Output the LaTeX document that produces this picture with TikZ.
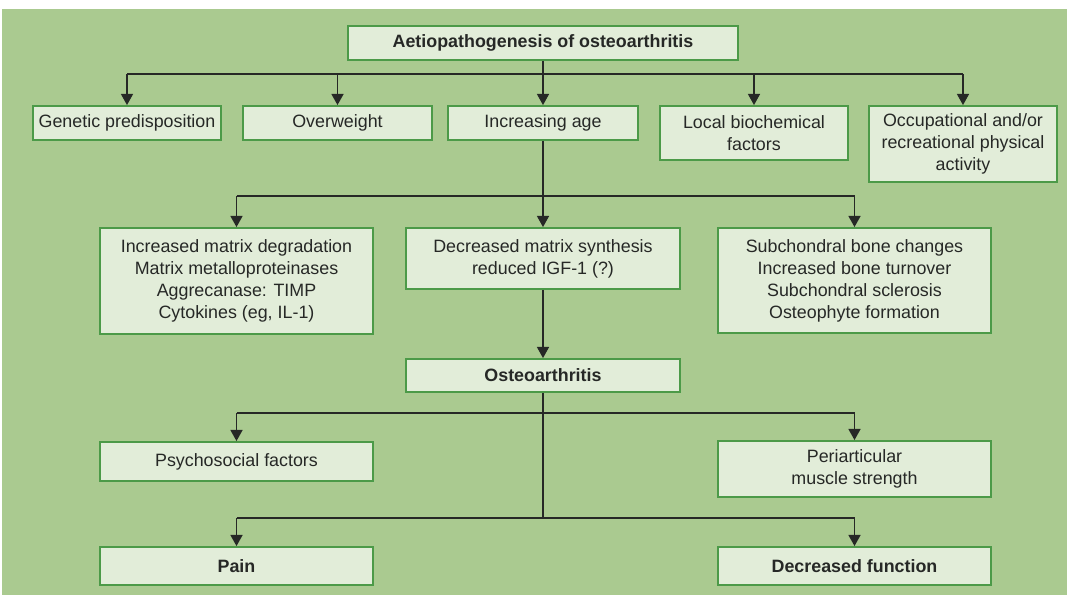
\documentclass[tikz,border=0pt]{standalone}
\usepackage{fontspec}
\setmainfont{Liberation Sans}
\usetikzlibrary{arrows.meta,positioning,calc}

\definecolor{bggreen}{RGB}{170,202,144}
\definecolor{boxfill}{RGB}{226,237,217}
\definecolor{boxline}{RGB}{76,154,72}
\definecolor{inkgray}{RGB}{38,40,38}

\begin{document}
\begin{tikzpicture}[
  x=0.025cm, y=-0.025cm,
  >={Triangle[width=0.3cm,length=0.28cm]},
  box/.style={draw=boxline, line width=1.3pt, fill=boxfill, text=inkgray,
    align=center, inner sep=0pt, font=\fontsize{12.7}{15.6}\selectfont},
  boldbox/.style={box, font=\fontsize{12.7}{15.6}\selectfont\bfseries},
  link/.style={draw=inkgray, line width=1.2pt},
]
% Background (scanned page)
\useasboundingbox (0,0) rectangle (1067,595);
\fill[white] (0,0) rectangle (1067,595);
\fill[bggreen] (2,9) rectangle (1067,595);

% Top
\node[boldbox, minimum width=9.75cm, minimum height=0.85cm] (title) at (543,43) {Aetiopathogenesis of osteoarthritis};

% Risk factors
\node[box, minimum width=4.7cm, minimum height=0.85cm] (gen) at (127,123) {Genetic predisposition};
\node[box, minimum width=4.725cm, minimum height=0.85cm] (over) at (337.5,123) {Overweight};
\node[box, minimum width=4.75cm, minimum height=0.85cm] (age) at (543,123) {Increasing age};
\node[box, minimum width=4.7cm, minimum height=1.35cm] (local) at (754,133) {Local biochemical\\factors};
\node[box, minimum width=4.7cm, minimum height=1.9cm] (occup) at (963,144) {Occupational and/or\\recreational physical\\activity};

% Mechanisms
\node[box, minimum width=6.825cm, minimum height=2.65cm] (degr) at (236.5,281) {Increased matrix degradation\\Matrix metalloproteinases\\Aggrecanase: TIMP\\Cytokines (eg, IL-1)};
\node[box, minimum width=6.85cm, minimum height=1.525cm] (synth) at (543,258.5) {Decreased matrix synthesis\\reduced IGF-1 (?)};
\node[box, minimum width=6.825cm, minimum height=2.625cm] (bone) at (854.5,280.5) {Subchondral bone changes\\Increased bone turnover\\Subchondral sclerosis\\Osteophyte formation};

\node[boldbox, minimum width=6.85cm, minimum height=0.825cm] (oa) at (543,375.5) {Osteoarthritis};

% Modifiers and outcomes
\node[box, minimum width=6.825cm, minimum height=0.975cm] (psy) at (236.5,461.5) {Psychosocial factors};
\node[box, minimum width=6.825cm, minimum height=1.4cm] (peri) at (854.5,469) {Periarticular\\muscle strength};
\node[boldbox, minimum width=6.825cm, minimum height=0.95cm] (pain) at (236.5,566) {Pain};
\node[boldbox, minimum width=6.825cm, minimum height=0.95cm] (func) at (854.5,566) {Decreased function};

% Bus levels
\coordinate (bus1) at (0,74);
\coordinate (bus2) at (0,196);
\coordinate (bus3) at (0,413);
\coordinate (bus4) at (0,518);

% Connectors
\draw[link] (title.south) -- (title.south |- bus1);
\draw[link] (gen.north |- bus1) -- (occup.north |- bus1);
\foreach \n in {gen,over,age,local,occup}
  \draw[link,->] (\n.north |- bus1) -- (\n.north);

\draw[link] (age.south) -- (age.south |- bus2);
\draw[link] (degr.north |- bus2) -- (bone.north |- bus2);
\foreach \n in {degr,synth,bone}
  \draw[link,->] (\n.north |- bus2) -- (\n.north);

\draw[link,->] (synth.south) -- (oa.north);
\draw[link] (oa.south) -- (oa.south |- bus4);
\draw[link] (psy.north |- bus3) -- (peri.north |- bus3);
\draw[link] (pain.north |- bus4) -- (func.north |- bus4);
\foreach \n in {psy,peri}
  \draw[link,->] (\n.north |- bus3) -- (\n.north);
\foreach \n in {pain,func}
  \draw[link,->] (\n.north |- bus4) -- (\n.north);
\end{tikzpicture}
\end{document}
